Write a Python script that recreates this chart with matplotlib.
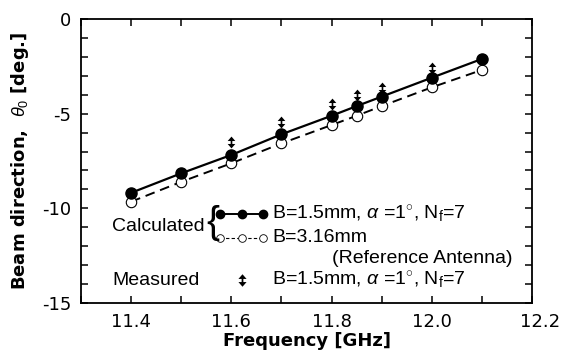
import matplotlib
matplotlib.use("Agg")
import matplotlib.pyplot as plt
import matplotlib.transforms as mtransforms
from matplotlib.path import Path
from matplotlib.ticker import MultipleLocator, FixedLocator

plt.rcParams['font.family'] = ['Liberation Sans', 'DejaVu Sans']
plt.rcParams['mathtext.fontset'] = 'custom'
plt.rcParams['mathtext.rm'] = 'Liberation Sans'
plt.rcParams['mathtext.it'] = 'Liberation Sans:italic'

# ---- data ----
freq = [11.4, 11.5, 11.6, 11.7, 11.8, 11.85, 11.9, 12.0, 12.1]
theta_calc = [-9.18, -8.15, -7.18, -6.09, -5.11, -4.60, -4.10, -3.10, -2.11]
theta_ref = [-9.65, -8.60, -7.62, -6.57, -5.60, -5.11, -4.60, -3.61, -2.69]
freq_meas = [11.6, 11.7, 11.8, 11.85, 11.9, 12.0]
theta_meas = [-6.51, -5.42, -4.49, -4.01, -3.63, -2.61]

xticks = [11.4, 11.6, 11.8, 12.0, 12.2]
yticks = [0, -5, -10, -15]

# double-headed arrow used as the "measured" marker
arrow = Path([(0, 1), (0.65, 0.25), (0.14, 0.25), (0.14, -0.25), (0.65, -0.25), (0, -1),
              (-0.65, -0.25), (-0.14, -0.25), (-0.14, 0.25), (-0.65, 0.25), (0, 1)],
             closed=True)

fig = plt.figure(figsize=(5.64, 3.58), dpi=100)
ax = fig.add_axes([0.1436, 0.1536, 0.7997, 0.7933])

ax.plot(freq, theta_calc, color='black', lw=1.6, marker='o', ms=8,
        markerfacecolor='black', zorder=3)
ax.plot(freq, theta_ref, color='black', lw=1.4, ls=(0, (5, 3)), marker='o', ms=7.5,
        markerfacecolor='white', markeredgewidth=0.8, zorder=2)
ax.plot(freq_meas, theta_meas, ls='none', marker=arrow, ms=8.5,
        color='black', markeredgewidth=0, zorder=4)

ax.set_xlim(11.3, 12.2)
ax.set_ylim(-15, 0)
ax.xaxis.set_major_locator(FixedLocator(xticks))
ax.xaxis.set_minor_locator(MultipleLocator(0.1))
ax.yaxis.set_major_locator(FixedLocator(yticks))
ax.yaxis.set_minor_locator(MultipleLocator(1))
ax.set_xticklabels(['%.1f' % v for v in xticks])
ax.set_yticklabels(['%d' % v for v in yticks])
ax.tick_params(which='both', direction='in', top=True, right=True, length=5,
               width=1.1, labelsize=13, labelfontfamily='DejaVu Sans')
ax.tick_params(which='major', pad=7)
# last label sits a bit right of the axis end in the original
for lab in ax.get_xticklabels():
    if lab.get_text() == '12.2':
        lab.set_transform(lab.get_transform() +
                          mtransforms.ScaledTranslation(8 / 100, 0, fig.dpi_scale_trans))
for s in ax.spines.values():
    s.set_linewidth(1.3)

ax.set_xlabel('Frequency [GHz]', fontsize=13, fontweight='bold', labelpad=1,
              family='DejaVu Sans')
ax.set_ylabel(r'Beam direction,  $\theta_0$ [deg.]', fontsize=13,
              fontweight='bold', labelpad=8, family='DejaVu Sans')

# ---- hand-drawn legend ----
tr = ax.transAxes
fs = 14
ax.text(0.069, 0.268, 'Calculated', transform=tr, fontsize=fs, va='center', ha='left')
ax.text(0.293, 0.283, '{', transform=tr, fontsize=28, va='center', ha='center',
        fontweight='light')
ax.plot([0.309, 0.356, 0.403], [0.312] * 3, transform=tr, color='black', lw=1.4,
        marker='o', ms=6, clip_on=False)
ax.plot([0.309, 0.356, 0.403], [0.230] * 3, transform=tr, color='black', lw=0.8,
        ls=(0, (3, 2)), marker='o', ms=5.5, markerfacecolor='white',
        markeredgewidth=0.6, clip_on=False)
lbl = r'B=1.5mm, $\alpha$ =1$^{\circ}$, N$_{\mathrm{f}}$=7'
ax.text(0.4235, 0.312, lbl, transform=tr, fontsize=fs, va='center', ha='left')
ax.text(0.4235, 0.230, 'B=3.16mm', transform=tr, fontsize=fs, va='center', ha='left')
ax.text(0.956, 0.158, '(Reference Antenna)', transform=tr, fontsize=fs,
        va='center', ha='right')
ax.text(0.069, 0.081, 'Measured', transform=tr, fontsize=fs, va='center', ha='left')
ax.plot([0.357], [0.081], transform=tr, marker=arrow, ms=9,
        color='black', markeredgewidth=0, ls='none')
ax.text(0.4235, 0.081, lbl, transform=tr, fontsize=fs, va='center', ha='left')

fig.savefig('out.png', dpi=100)
